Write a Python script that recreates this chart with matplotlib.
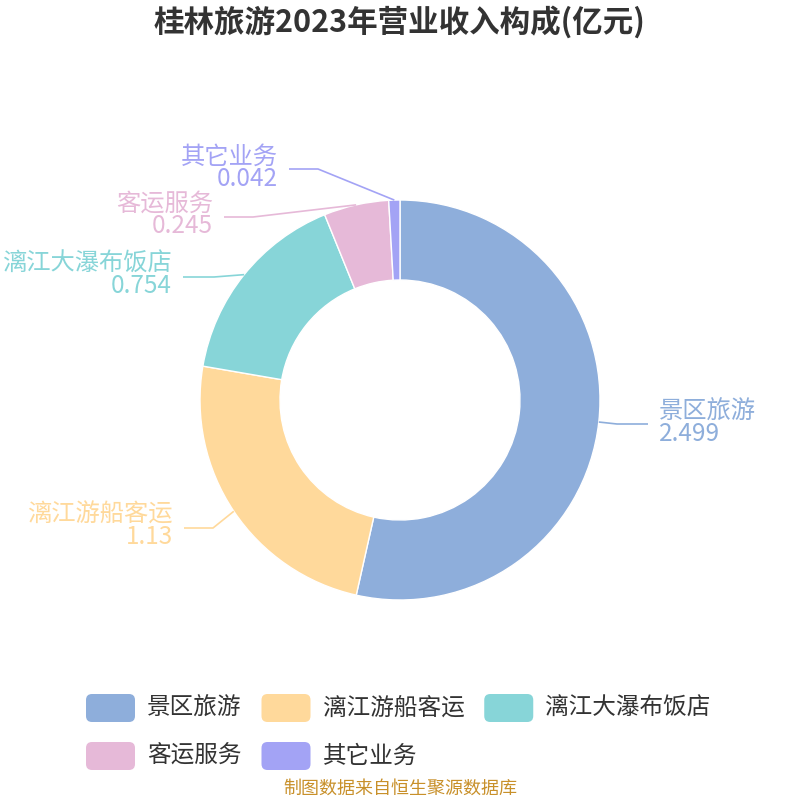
import matplotlib
matplotlib.use("Agg")
import matplotlib.pyplot as plt
from matplotlib.patches import FancyBboxPatch
import numpy as np

plt.rcParams['font.family'] = ['Noto Sans CJK SC', 'DejaVu Sans']

# ---- data ----
title = "桂林旅游2023年营业收入构成(亿元)"
categories = ["景区旅游", "漓江游船客运", "漓江大瀑布饭店", "客运服务", "其它业务"]
values = [2.499, 1.13, 0.754, 0.245, 0.042]
colors = ["#8eaedb", "#ffd99b", "#87d5d8", "#e6b9d8", "#a3a3f5"]
source = "制图数据来自恒生聚源数据库"

# ---- label layout (pixel positions in the 800x800 image) ----
# elbow, end of leader line, text x, name y, value y, side
label_layout = [
    ((617, 424), (648, 424), 659, 412, 434, 'left'),
    ((213, 528), (184, 528), 173, 514, 538, 'right'),
    ((214, 277), (183, 277), 172, 263, 286, 'right'),
    ((253, 217), (224, 217), 213, 203, 227, 'right'),
    ((318, 169), (289, 169), 278, 156, 179, 'right'),
]

fig = plt.figure(figsize=(8, 8), dpi=100)
ax = fig.add_axes([0, 0, 1, 1])


def p2d(px, py):
    return (px - 400) / 200.0, (400 - py) / 200.0


wedges, _ = ax.pie(values, colors=colors, startangle=90, counterclock=False,
                   radius=1.0, center=(0, 0),
                   wedgeprops=dict(width=0.4, edgecolor='white', linewidth=1.0))
ax.set_xlim(-2, 2)
ax.set_ylim(-2, 2)
ax.set_aspect('equal')
ax.axis('off')

for w, name, val, col, lay in zip(wedges, categories, values, colors, label_layout):
    elbow, end, tx, ny, vy, side = lay
    mid = np.deg2rad((w.theta1 + w.theta2) / 2.0)
    sx, sy = np.cos(mid), np.sin(mid)
    ex, ey = p2d(*elbow)
    fx, fy = p2d(*end)
    ax.plot([sx, ex, fx], [sy, ey, fy], color=col, lw=1.2, clip_on=False,
            solid_capstyle='butt')
    x, yc = p2d(tx, (ny + vy) / 2.0)
    ax.text(x, yc, f"{name}\n{val:g}", color=col, fontsize=17.5, ha=side,
            va='center', multialignment=side, linespacing=0.82)

# ---- title ----
fig.text(0.5, 1 - 22 / 800, title, ha='center', va='center', fontsize=22,
         fontweight='bold', color='#333333')

# ---- legend (manual, flow layout) ----
renderer = fig.canvas.get_renderer()
rows = [[0, 1, 2], [3, 4]]
row_y = [708, 756]
hw, hh = 49, 28
for r, items in enumerate(rows):
    x = 86
    cy = row_y[r]
    for i in items:
        bx, by = p2d(x, cy + hh / 2)
        ax.add_patch(FancyBboxPatch((bx, by), hw / 200.0, hh / 200.0,
                                    boxstyle="round,pad=0,rounding_size=0.03",
                                    facecolor=colors[i], edgecolor='none',
                                    clip_on=False))
        tx, ty = p2d(x + hw + 12, cy)
        t = ax.text(tx, ty, categories[i], color='#333333', fontsize=17,
                    ha='left', va='center')
        wpx = t.get_window_extent(renderer).width
        x = x + hw + 12 + wpx + 20

# ---- source ----
fig.text(0.5, 1 - 789 / 800, source, ha='center', va='center', fontsize=13,
         color='#c8902a')

fig.savefig("out.png", dpi=100, facecolor='white')
